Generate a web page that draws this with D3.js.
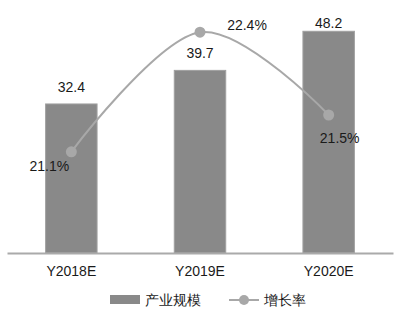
<!doctype html>
<html>
<head>
<meta charset="utf-8">
<script src="https://d3js.org/d3.v7.min.js"></script>
<style>
  body { margin: 0; background: #fff; }
  text { font-family: "Liberation Sans", Arial, sans-serif; }
</style>
</head>
<body>
<script>
// chart data
var categories = ['Y2018E', 'Y2019E', 'Y2020E'];
var scaleValues = [32.4, 39.7, 48.2];       // 产业规模
var growthValues = [21.1, 22.4, 21.5];      // 增长率 (%)
var seriesNames = ['产业规模', '增长率'];

var width = 400, height = 313;
var baseY = 253;

var svg = d3.select('body').append('svg')
  .attr('width', width)
  .attr('height', height);

// scales
var x = d3.scaleBand()
  .domain(categories)
  .range([7, 393])
  .paddingInner(0.6)
  .paddingOuter(0.3);

var y = d3.scaleLinear()
  .domain([0, 55])
  .range([baseY, 0]);

var y2 = d3.scaleLinear()
  .domain([20, 22.75])
  .range([baseY, 0]);

// bars
svg.selectAll('rect.bar')
  .data(scaleValues)
  .enter().append('rect')
  .attr('class', 'bar')
  .attr('x', function (d, i) { return x(categories[i]); })
  .attr('y', function (d) { return y(d); })
  .attr('width', x.bandwidth())
  .attr('height', function (d) { return baseY - y(d); })
  .attr('fill', '#898989')
  .attr('stroke', '#a0a0a0')
  .attr('stroke-width', 1);

// bar labels
svg.selectAll('text.barlabel')
  .data(scaleValues)
  .enter().append('text')
  .attr('class', 'barlabel')
  .attr('x', function (d, i) { return x(categories[i]) + x.bandwidth() / 2; })
  .attr('y', function (d) { return Math.max(y(d) - 12, 28); })
  .attr('text-anchor', 'middle')
  .attr('font-size', 14)
  .attr('fill', '#1a1a1a')
  .text(function (d) { return d.toFixed(1); });

// x axis
var axis = svg.append('g')
  .attr('transform', 'translate(0,' + baseY + ')')
  .call(d3.axisBottom(x).tickSize(0).tickPadding(13).tickSizeOuter(0));
axis.select('.domain').attr('stroke', '#aaaaaa').attr('stroke-width', 2);
axis.selectAll('text')
  .attr('font-size', 14)
  .attr('font-family', '"Liberation Sans", Arial, sans-serif')
  .attr('fill', '#1a1a1a');

// growth line
var cx = function (i) { return x(categories[i]) + x.bandwidth() / 2; };
var line = d3.line()
  .x(function (d, i) { return cx(i); })
  .y(function (d) { return y2(d); })
  .curve(d3.curveCardinal);

svg.append('path')
  .datum(growthValues)
  .attr('d', line)
  .attr('fill', 'none')
  .attr('stroke', '#a8a8a8')
  .attr('stroke-width', 2);

svg.selectAll('circle.pt')
  .data(growthValues)
  .enter().append('circle')
  .attr('class', 'pt')
  .attr('cx', function (d, i) { return cx(i); })
  .attr('cy', function (d) { return y2(d); })
  .attr('r', 5.5)
  .attr('fill', '#a8a8a8');

// growth labels (offsets per point)
var labelOffsets = [[-22, 19], [47, -2], [11, 28]];
svg.selectAll('text.pctlabel')
  .data(growthValues)
  .enter().append('text')
  .attr('class', 'pctlabel')
  .attr('x', function (d, i) { return cx(i) + labelOffsets[i][0]; })
  .attr('y', function (d, i) { return y2(d) + labelOffsets[i][1]; })
  .attr('text-anchor', 'middle')
  .attr('font-size', 14)
  .attr('fill', '#1a1a1a')
  .text(function (d) { return d.toFixed(1) + '%'; });

// legend
var legend = svg.append('g').attr('transform', 'translate(0,300)');
legend.append('rect')
  .attr('x', 110).attr('y', -5)
  .attr('width', 30).attr('height', 9)
  .attr('fill', '#898989');
legend.append('text')
  .attr('x', 145).attr('y', 5)
  .attr('font-size', 14)
  .attr('font-family', '"Noto Sans CJK SC", sans-serif')
  .attr('fill', '#1a1a1a')
  .text(seriesNames[0]);
legend.append('line')
  .attr('x1', 229).attr('x2', 259)
  .attr('y1', 0).attr('y2', 0)
  .attr('stroke', '#a8a8a8').attr('stroke-width', 2);
legend.append('circle')
  .attr('cx', 244).attr('cy', 0).attr('r', 5)
  .attr('fill', '#a8a8a8');
legend.append('text')
  .attr('x', 264).attr('y', 5)
  .attr('font-size', 14)
  .attr('font-family', '"Noto Sans CJK SC", sans-serif')
  .attr('fill', '#1a1a1a')
  .text(seriesNames[1]);
</script>
</body>
</html>
